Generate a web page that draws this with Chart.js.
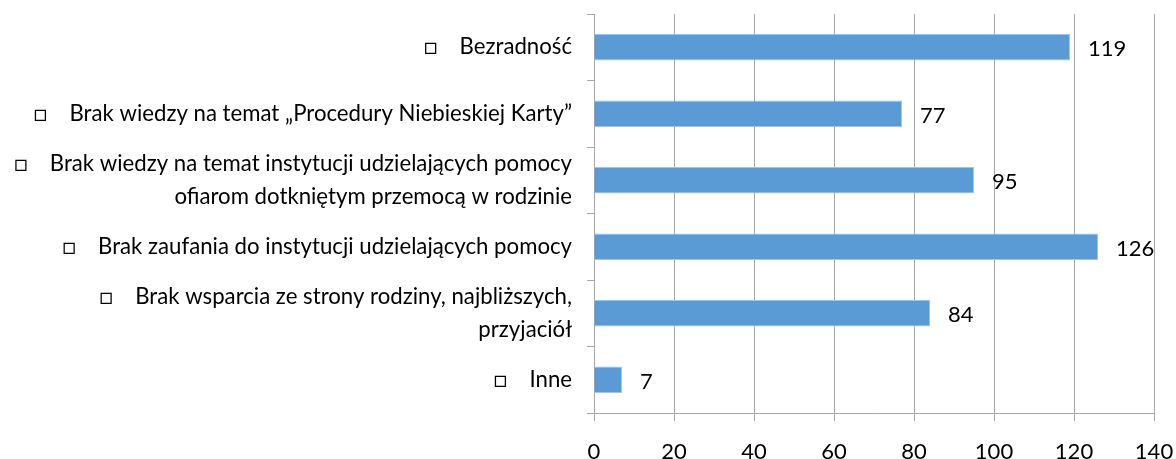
<!DOCTYPE html>
<html>
<head>
<meta charset="utf-8">
<script src="https://cdn.jsdelivr.net/npm/chart.js@4/dist/chart.umd.min.js"></script>
<style>
    html, body { margin: 0; padding: 0; background: #fff; }
    #wrap { width: 1176px; height: 459px; }
</style>
</head>
<body>
<div id="wrap"><canvas id="chart" width="1176" height="459"></canvas></div>
<script>
// chart data
const categories = [
    ['Bezradność'],
    ['Brak wiedzy na temat „Procedury Niebieskiej Karty”'],
    ['Brak wiedzy na temat instytucji udzielających pomocy', 'ofiarom dotkniętym przemocą w rodzinie'],
    ['Brak zaufania do instytucji udzielających pomocy'],
    ['Brak wsparcia ze strony rodziny, najbliższych,', 'przyjaciół'],
    ['Inne']
]
const values = [119, 77, 95, 126, 84, 7]
const xTicks = [0, 20, 40, 60, 80, 100, 120, 140]

const bullet = '□'
const gap = '\u2003 '

// put the little square in front of the first line of each label
let labels = categories.map(lines => {
    let out = lines.slice()
    out[0] = bullet + gap + out[0]
    return out.length === 1 ? out[0] : out
})

const font = 'Lato, "Liberation Sans", sans-serif'
const gridGrey = '#a6a6a6'

// draws the value to the right of each bar
const valueLabels = {
    id: 'valueLabels',
    afterDatasetsDraw(chart) {
        const ctx = chart.ctx
        const meta = chart.getDatasetMeta(0)
        ctx.save()
        ctx.font = '22px ' + font
        ctx.fillStyle = '#000'
        ctx.textAlign = 'left'
        ctx.textBaseline = 'middle'
        meta.data.forEach((bar, i) => {
            ctx.fillText(String(values[i]), bar.x + 18, bar.y + 2)
        })
        ctx.restore()
    }
}

const ctx = document.querySelector('#chart').getContext('2d')

new Chart(ctx, {
    type: 'bar',
    data: {
        labels: labels,
        datasets: [{
            data: values,
            backgroundColor: '#5b9bd5',
            borderColor: '#9dc3e6',
            borderWidth: 1,
            barPercentage: 0.4,
            categoryPercentage: 1
        }]
    },
    options: {
        indexAxis: 'y',
        responsive: false,
        animation: false,
        layout: { padding: { top: 14, right: 22, left: 0, bottom: 0 } },
        plugins: {
            legend: { display: false },
            tooltip: { enabled: false }
        },
        scales: {
            x: {
                min: 0,
                max: 140,
                afterBuildTicks: scale => {
                    scale.ticks = xTicks.map(v => ({ value: v }))
                },
                afterFit: scale => {
                    scale.height = 46
                    scale.paddingLeft = 0
                    scale.paddingRight = 0
                },
                grid: {
                    color: gridGrey,
                    tickLength: 8,
                    lineWidth: 1
                },
                border: { color: gridGrey },
                ticks: {
                    color: '#000',
                    padding: 18,
                    font: { family: font, size: 22 }
                }
            },
            y: {
                afterFit: scale => {
                    scale.width = 594
                    scale.paddingTop = 0
                    scale.paddingBottom = 0
                },
                grid: {
                    drawOnChartArea: false,
                    color: gridGrey,
                    tickLength: 7,
                    offset: true
                },
                border: { color: gridGrey },
                ticks: {
                    color: '#000',
                    padding: 15,
                    autoSkip: false,
                    font: { family: font, size: 22.2, lineHeight: 1.5 }
                }
            }
        }
    },
    plugins: [valueLabels]
})
</script>
</body>
</html>
